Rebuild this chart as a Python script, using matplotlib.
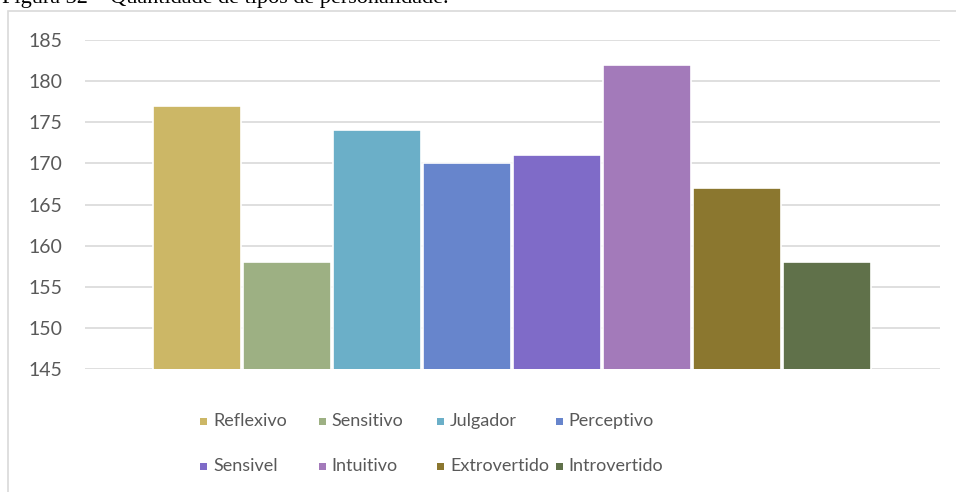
import matplotlib.pyplot as plt
from matplotlib.patches import Rectangle

# personality types and how many students fall in each
tipos = ['Reflexivo', 'Sensitivo', 'Julgador', 'Perceptivo',
         'Sensivel', 'Intuitivo', 'Extrovertido', 'Introvertido']
quantidade = [177, 158, 174, 170, 171, 182, 167, 158]
cores = ['#CCB766', '#9DB083', '#6BAFC8', '#6785CC',
         '#7F6BC8', '#A37ABA', '#8B772F', '#60714A']

W, H = 956, 492
fig = plt.figure(figsize=(W / 100, H / 100), dpi=100)

# chart frame
fig.add_artist(Rectangle((8 / W, -0.1), 1.2, 1 - 11 / H + 0.1, transform=fig.transFigure,
                         fill=False, edgecolor='#D9D9D9', linewidth=1.2))

# caption, mostly cut off by the top edge
fig.text(2 / W, 1 - 3 / H, 'Figura 32 – Quantidade de tipos de personalidade.',
         family='Liberation Serif', fontsize=16, va='baseline', ha='left', color='black')

ax = fig.add_axes([85 / W, 1 - 369 / H, (940 - 85) / W, (369 - 40) / H])
x = list(range(len(tipos)))
ax.bar(x, quantidade, width=0.975, bottom=0, color=cores, edgecolor='white',
       linewidth=1.2, zorder=3)
ax.set_ylim(145, 185)
ax.set_xlim(-(197 - 85) / 90, 7 + (940 - 827) / 90)
ax.set_yticks(range(145, 186, 5))
ax.grid(axis='y', color='#D9D9D9', linewidth=1.2, zorder=0)
ax.set_xticks([])
for s in ax.spines.values():
    s.set_visible(False)
ax.tick_params(axis='y', length=0, pad=16.5, labelsize=14, labelcolor='#595959')
for lab in ax.get_yticklabels():
    lab.set_family('Lato')

# legend in two rows of four, equal column widths
for i, (nome, cor) in enumerate(zip(tipos, cores)):
    col, row = i % 4, i // 4
    px = 200 + col * 118.5
    py = 421 + row * 45
    fig.add_artist(Rectangle((px / W, 1 - (py + 3.5) / H), 7 / W, 7 / H,
                             transform=fig.transFigure, facecolor=cor, edgecolor='none'))
    fig.text((px + 13) / W, 1 - py / H, nome, family='Lato', fontsize=13,
             color='#595959', va='center', ha='left')

fig.savefig('out.png', dpi=100)
